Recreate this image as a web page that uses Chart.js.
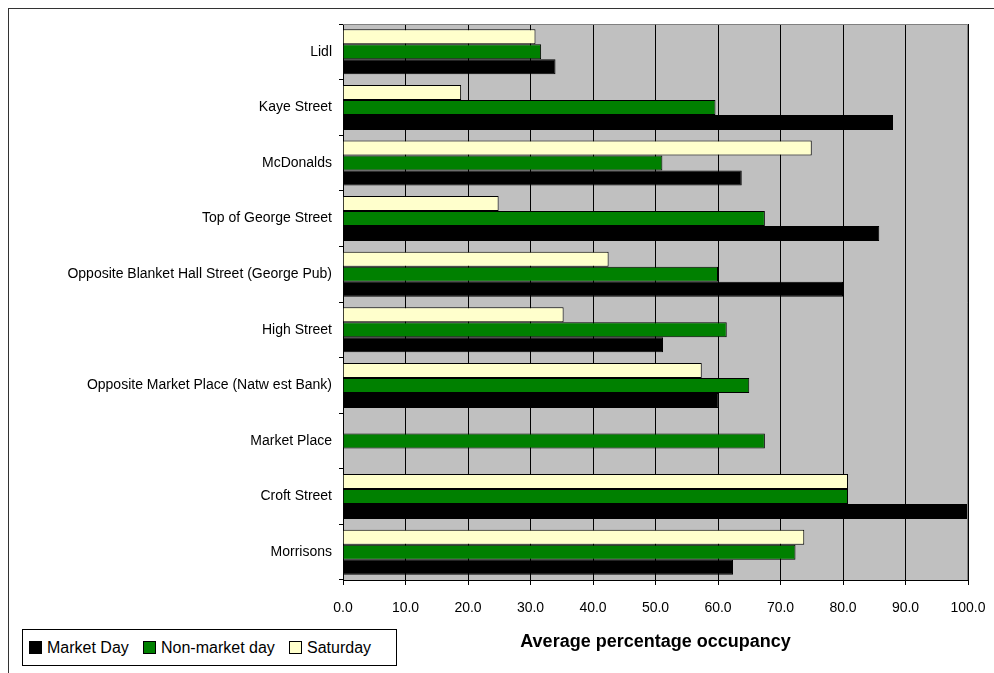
<!DOCTYPE html>
<html>
<head>
<meta charset="utf-8">
<script src="https://cdn.jsdelivr.net/npm/chart.js@4/dist/chart.umd.min.js"></script>
<style>
    body { margin: 0; background: #fff; font-family: Arial, "Liberation Sans", sans-serif; }
    .wrap { position: relative; width: 994px; height: 673px; overflow: hidden; }
    .frame { position: absolute; left: 8px; top: 8px; width: 1000px; height: 700px; border-top: 1px solid #333; border-left: 1px solid #333; }
    .legend { position: absolute; left: 22px; top: 629px; width: 373px; height: 35px; border: 1px solid #000; background: #fff; }
    .legend .item { position: absolute; top: 0; height: 35px; display: flex; align-items: center; font-size: 16px; color: #000; white-space: nowrap; }
    .legend .box { width: 11px; height: 11px; border: 1px solid #000; margin-right: 5px; }
</style>
</head>
<body>
<div class="wrap">
    <div class="frame"></div>
    <canvas id="occupancyChart" width="994" height="673"></canvas>
    <div class="legend" id="legend"></div>
</div>
<script>
// Car park / street locations, top to bottom
const locations = [
    'Lidl',
    'Kaye Street',
    'McDonalds',
    'Top of George Street',
    'Opposite Blanket Hall Street (George Pub)',
    'High Street',
    'Opposite Market Place (Natw est Bank)',
    'Market Place',
    'Croft Street',
    'Morrisons'
];

// Average percentage occupancy per series
const saturday     = [30.8, 18.9, 75.0, 24.9, 42.5, 35.3, 57.4, 0,    80.8, 73.8];
const nonMarketDay = [31.7, 59.6, 51.1, 67.5, 60.0, 61.4, 65.0, 67.5, 80.8, 72.4];
const marketDay    = [34.0, 88.0, 63.8, 85.8, 80.0, 51.2, 60.1, 0,    100.0, 62.4];

const xTicks = [0, 10, 20, 30, 40, 50, 60, 70, 80, 90, 100];

// Plot area background and grey top/right edge
const plotArea = {
    id: 'plotArea',
    beforeDraw(chart) {
        const { ctx, chartArea: a } = chart;
        ctx.save();
        ctx.fillStyle = '#C0C0C0';
        ctx.fillRect(a.left, a.top, a.right - a.left, a.bottom - a.top);
        ctx.restore();
    },
    afterDatasetsDraw(chart) {
        const { ctx, chartArea: a } = chart;
        ctx.save();
        ctx.strokeStyle = '#808080';
        ctx.lineWidth = 1;
        ctx.beginPath();
        ctx.moveTo(a.left, a.top + 0.5);
        ctx.lineTo(a.right - 0.5, a.top + 0.5);
        ctx.lineTo(a.right - 0.5, a.bottom);
        ctx.stroke();
        ctx.restore();
    }
};

const ctx = document.getElementById('occupancyChart').getContext('2d');
const chart = new Chart(ctx, {
    type: 'bar',
    data: {
        labels: locations,
        datasets: [
            { label: 'Saturday', data: saturday, backgroundColor: '#FFFFCC', borderColor: '#000', borderWidth: 1 },
            { label: 'Non-market day', data: nonMarketDay, backgroundColor: '#008000', borderColor: '#000', borderWidth: 1 },
            { label: 'Market Day', data: marketDay, backgroundColor: '#000000', borderColor: '#000', borderWidth: 1 }
        ]
    },
    options: {
        indexAxis: 'y',
        responsive: false,
        animation: false,
        barPercentage: 1,
        categoryPercentage: 0.81,
        layout: { padding: { top: 24, right: 26, left: 0, bottom: 0 } },
        plugins: {
            legend: { display: false },
            tooltip: { enabled: false }
        },
        scales: {
            x: {
                min: 0,
                max: 100,
                afterFit: (scale) => {
                    scale.height = 93;
                    scale.paddingRight = 0;
                    scale.paddingLeft = 0;
                },
                afterBuildTicks: (scale) => { scale.ticks = xTicks.map(v => ({ value: v })); },
                ticks: {
                    color: '#000',
                    font: { family: 'Arial, "Liberation Sans"', size: 14 },
                    padding: 15,
                    maxRotation: 0,
                    callback: (v) => Number(v).toFixed(1)
                },
                grid: { color: '#000', tickLength: 5, lineWidth: 1 },
                border: { color: '#000' },
                title: {
                    display: true,
                    text: 'Average percentage occupancy',
                    color: '#000',
                    font: { family: 'Arial, "Liberation Sans"', size: 18, weight: 'bold' },
                    padding: { top: 0, bottom: 20 }
                }
            },
            y: {
                afterFit: (scale) => { scale.width = 343; },
                ticks: {
                    color: '#000',
                    font: { family: 'Arial, "Liberation Sans"', size: 14 },
                    padding: 7
                },
                grid: { offset: true, drawOnChartArea: false, tickLength: 4, color: '#000' },
                border: { color: '#000' }
            }
        }
    },
    plugins: [plotArea]
});

// Legend in the original order: Market Day, Non-market day, Saturday
const legendEl = document.getElementById('legend');
const legendLeft = [6, 120, 266];
chart.data.datasets.slice().reverse().forEach((ds, i) => {
    const item = document.createElement('div');
    item.className = 'item';
    item.style.left = legendLeft[i] + 'px';
    item.innerHTML = `<span class="box" style="background:${ds.backgroundColor}"></span>${ds.label}`;
    legendEl.appendChild(item);
});
</script>
</body>
</html>
